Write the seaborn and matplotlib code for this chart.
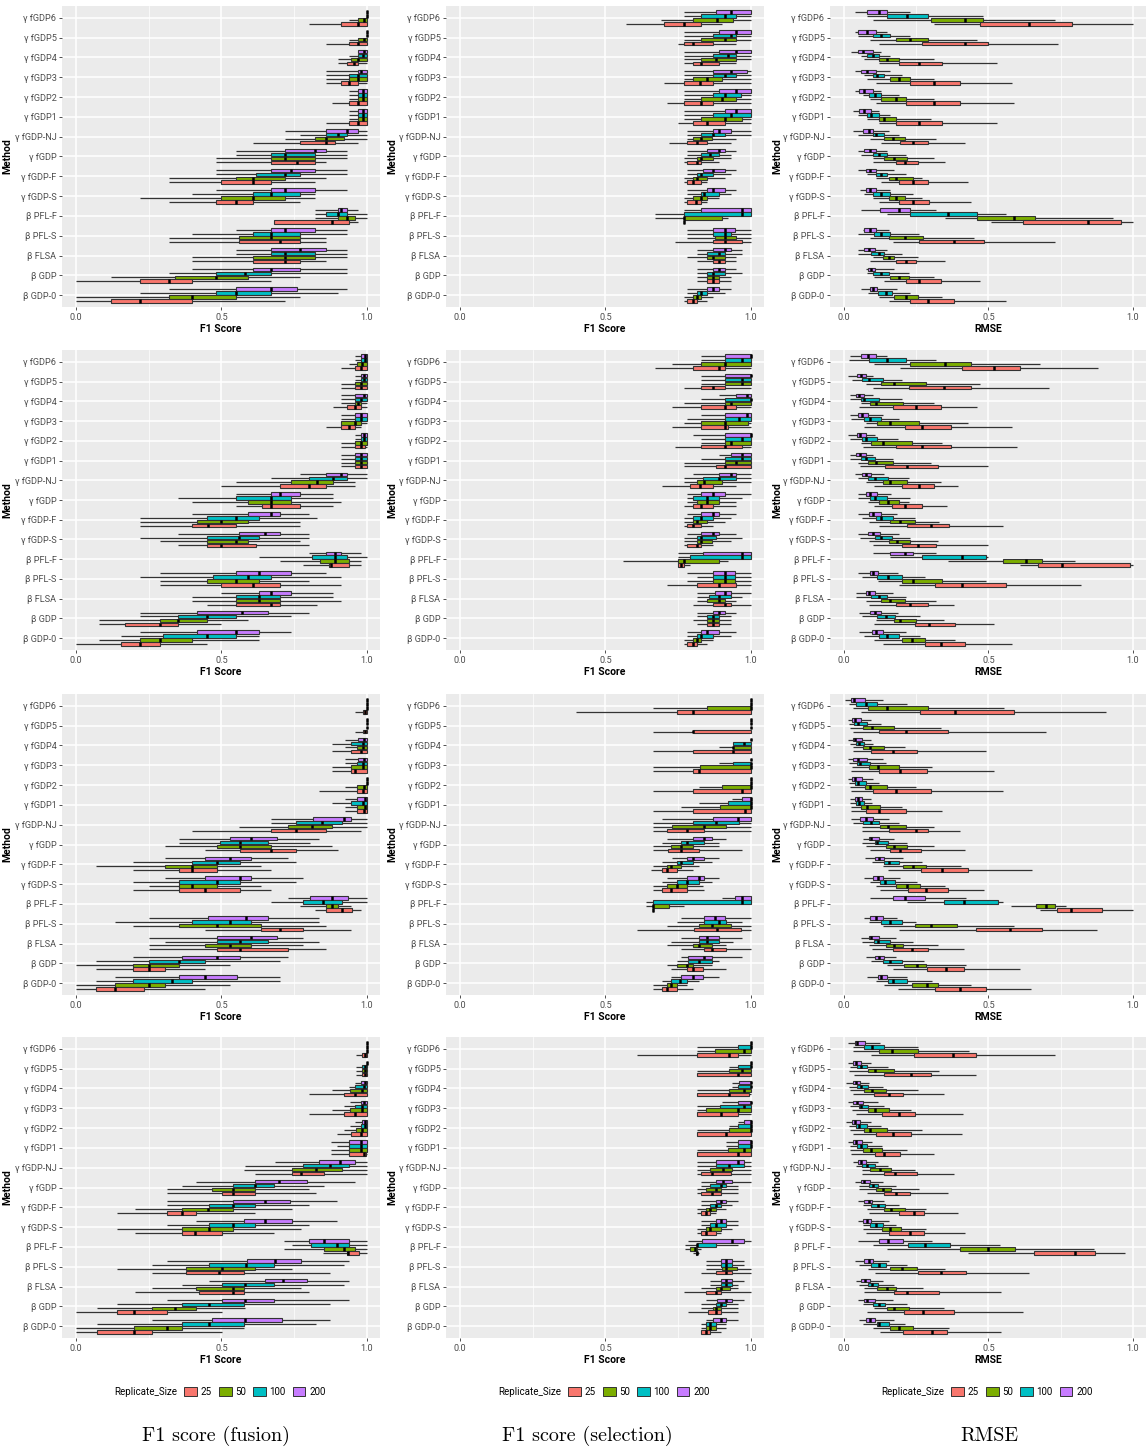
import numpy as np
import pandas as pd
import seaborn as sns
import matplotlib.pyplot as plt
from matplotlib.patches import Patch

plt.rcParams['font.family'] = ['Roboto', 'DejaVu Sans']

methods = ['γ fGDP6', 'γ fGDP5', 'γ fGDP4', 'γ fGDP3', 'γ fGDP2', 'γ fGDP1', 'γ fGDP-NJ',
           'γ fGDP', 'γ fGDP-F', 'γ fGDP-S', 'β PFL-F', 'β PFL-S', 'β FLSA', 'β GDP', 'β GDP-0']
sizes = ['25', '50', '100', '200']
size_colors = ['#F8766D', '#7CAE00', '#00BFC4', '#C77CFF']
x_titles = ['F1 Score', 'F1 Score', 'RMSE']
captions = ['F1 score (fusion)', 'F1 score (selection)', 'RMSE']

# one row per method (top to bottom), one box per replicate size 25/50/100/200
# every box is (lower whisker, q1, median, q3, upper whisker)
one = (1, 1, 1, 1, 1)

fusion_1 = [
    [(0.80, 0.91, 0.97, 1, 1), (0.94, 0.97, 0.99, 1, 1), one, one],
    [(0.86, 0.94, 0.97, 1, 1), (0.94, 0.97, 0.99, 1, 1), one, one],
    [(0.90, 0.93, 0.955, 0.97, 1), (0.90, 0.945, 0.97, 1, 1), (0.94, 0.97, 0.985, 1, 1), (0.97, 0.97, 0.99, 1, 1)],
    [(0.86, 0.91, 0.94, 0.97, 1), (0.86, 0.94, 0.97, 1, 1), (0.86, 0.94, 0.97, 1, 1), (0.86, 0.97, 0.98, 1, 1)],
    [(0.88, 0.94, 0.97, 1, 1), (0.94, 0.97, 0.985, 1, 1), (0.94, 0.97, 0.985, 1, 1), (0.94, 0.97, 0.985, 1, 1)],
    [(0.86, 0.94, 0.97, 1, 1), (0.94, 0.97, 0.985, 1, 1), (0.94, 0.97, 0.985, 1, 1), (0.94, 0.97, 0.985, 1, 1)],
    [(0.61, 0.77, 0.86, 0.89, 0.97), (0.72, 0.82, 0.86, 0.92, 1.0), (0.77, 0.86, 0.90, 0.93, 1.0), (0.72, 0.86, 0.93, 0.97, 1.0)],
    [(0.48, 0.67, 0.76, 0.82, 0.86), (0.48, 0.67, 0.72, 0.82, 0.93), (0.55, 0.67, 0.72, 0.82, 0.93), (0.55, 0.72, 0.82, 0.86, 0.93)],
    [(0.32, 0.50, 0.61, 0.67, 0.82), (0.32, 0.55, 0.61, 0.72, 0.86), (0.48, 0.62, 0.72, 0.77, 0.93), (0.48, 0.67, 0.74, 0.82, 0.93)],
    [(0.32, 0.48, 0.55, 0.61, 0.77), (0.22, 0.50, 0.61, 0.72, 0.82), (0.40, 0.61, 0.67, 0.77, 0.82), (0.48, 0.67, 0.72, 0.82, 0.93)],
    [(0.68, 0.68, 0.88, 0.94, 0.97), (0.82, 0.90, 0.93, 0.96, 1.0), (0.82, 0.86, 0.90, 0.93, 1.0), (0.82, 0.90, 0.91, 0.93, 0.97)],
    [(0.32, 0.56, 0.70, 0.77, 0.86), (0.32, 0.56, 0.67, 0.77, 0.86), (0.40, 0.61, 0.67, 0.77, 0.93), (0.55, 0.67, 0.72, 0.82, 0.93)],
    [(0.40, 0.61, 0.72, 0.77, 0.86), (0.40, 0.61, 0.72, 0.82, 0.93), (0.55, 0.67, 0.72, 0.82, 0.93), (0.55, 0.67, 0.77, 0.86, 0.93)],
    [(0.0, 0.22, 0.32, 0.40, 0.67), (0.12, 0.34, 0.48, 0.59, 0.77), (0.32, 0.48, 0.58, 0.67, 0.93), (0.40, 0.61, 0.67, 0.77, 0.93)],
    [(0.0, 0.12, 0.22, 0.40, 0.72), (0.0, 0.32, 0.40, 0.55, 0.77), (0.22, 0.48, 0.55, 0.67, 0.90), (0.32, 0.55, 0.67, 0.76, 0.93)],
]

select_1 = [
    [(0.57, 0.70, 0.77, 0.83, 0.90), (0.69, 0.80, 0.885, 0.94, 1.0), (0.77, 0.83, 0.91, 0.95, 1.0), (0.77, 0.88, 0.93, 1.0, 1.0)],
    [(0.75, 0.77, 0.80, 0.87, 0.95), (0.77, 0.83, 0.91, 0.95, 1.0), (0.77, 0.87, 0.93, 0.95, 1.0), (0.77, 0.89, 0.95, 1.0, 1.0)],
    [(0.77, 0.80, 0.83, 0.89, 0.95), (0.77, 0.83, 0.88, 0.95, 1.0), (0.77, 0.87, 0.92, 0.95, 1.0), (0.77, 0.89, 0.95, 1.0, 1.0)],
    [(0.70, 0.77, 0.825, 0.87, 1.0), (0.77, 0.80, 0.85, 0.90, 1.0), (0.77, 0.87, 0.91, 0.95, 1.0), (0.77, 0.87, 0.93, 0.985, 1.0)],
    [(0.71, 0.77, 0.83, 0.87, 1.0), (0.77, 0.83, 0.90, 0.95, 1.0), (0.77, 0.87, 0.91, 0.965, 1.0), (0.77, 0.89, 0.95, 1.0, 1.0)],
    [(0.75, 0.80, 0.85, 0.91, 1.0), (0.77, 0.83, 0.91, 0.97, 1.0), (0.77, 0.87, 0.93, 1.0, 1.0), (0.77, 0.91, 0.95, 1.0, 1.0)],
    [(0.72, 0.78, 0.815, 0.85, 0.93), (0.78, 0.80, 0.83, 0.865, 0.95), (0.78, 0.83, 0.87, 0.91, 1.0), (0.78, 0.87, 0.89, 0.93, 1.0)],
    [(0.77, 0.78, 0.815, 0.83, 0.89), (0.77, 0.815, 0.83, 0.87, 0.93), (0.78, 0.83, 0.86, 0.89, 0.93), (0.78, 0.85, 0.89, 0.91, 0.95)],
    [(0.77, 0.78, 0.80, 0.83, 0.85), (0.77, 0.80, 0.815, 0.85, 0.91), (0.78, 0.815, 0.83, 0.87, 0.93), (0.78, 0.835, 0.87, 0.91, 0.95)],
    [(0.77, 0.78, 0.81, 0.83, 0.85), (0.77, 0.80, 0.83, 0.85, 0.89), (0.78, 0.83, 0.84, 0.89, 0.93), (0.78, 0.85, 0.87, 0.91, 0.95)],
    [(0.77, 0.77, 0.77, 0.77, 0.77), (0.67, 0.77, 0.77, 0.90, 0.92), (0.67, 0.77, 0.97, 1.0, 1.0), (0.77, 0.83, 0.97, 1.0, 1.0)],
    [(0.74, 0.87, 0.91, 0.97, 1.0), (0.78, 0.875, 0.91, 0.95, 1.0), (0.78, 0.87, 0.91, 0.93, 1.0), (0.78, 0.87, 0.91, 0.945, 1.0)],
    [(0.815, 0.87, 0.89, 0.91, 0.95), (0.78, 0.85, 0.87, 0.91, 0.95), (0.815, 0.85, 0.89, 0.91, 0.97), (0.815, 0.87, 0.91, 0.93, 0.97)],
    [(0.815, 0.85, 0.87, 0.89, 0.93), (0.815, 0.85, 0.87, 0.89, 0.93), (0.815, 0.85, 0.87, 0.91, 0.97), (0.815, 0.87, 0.89, 0.91, 0.95)],
    [(0.77, 0.78, 0.80, 0.815, 0.85), (0.77, 0.80, 0.815, 0.83, 0.87), (0.78, 0.815, 0.83, 0.85, 0.91), (0.78, 0.85, 0.87, 0.89, 0.93)],
]

rmse_1 = [
    [(0.31, 0.47, 0.64, 0.79, 1.0), (0.10, 0.30, 0.42, 0.48, 0.73), (0.08, 0.15, 0.22, 0.29, 0.48), (0.04, 0.08, 0.12, 0.15, 0.23)],
    [(0.12, 0.27, 0.42, 0.50, 0.74), (0.09, 0.18, 0.23, 0.29, 0.46), (0.05, 0.10, 0.13, 0.16, 0.23), (0.04, 0.05, 0.08, 0.11, 0.15)],
    [(0.12, 0.19, 0.26, 0.34, 0.53), (0.07, 0.12, 0.15, 0.19, 0.31), (0.06, 0.08, 0.10, 0.12, 0.16), (0.025, 0.05, 0.066, 0.10, 0.13)],
    [(0.11, 0.23, 0.31, 0.40, 0.58), (0.08, 0.16, 0.19, 0.23, 0.31), (0.07, 0.10, 0.115, 0.14, 0.20), (0.04, 0.06, 0.08, 0.11, 0.16)],
    [(0.11, 0.215, 0.31, 0.40, 0.59), (0.09, 0.13, 0.18, 0.215, 0.31), (0.065, 0.086, 0.106, 0.13, 0.19), (0.04, 0.054, 0.07, 0.10, 0.13)],
    [(0.12, 0.18, 0.26, 0.34, 0.53), (0.08, 0.12, 0.14, 0.18, 0.30), (0.05, 0.08, 0.094, 0.12, 0.16), (0.03, 0.054, 0.07, 0.094, 0.12)],
    [(0.13, 0.195, 0.24, 0.29, 0.42), (0.09, 0.14, 0.17, 0.21, 0.32), (0.05, 0.10, 0.11, 0.14, 0.19), (0.03, 0.066, 0.086, 0.10, 0.155)],
    [(0.10, 0.18, 0.21, 0.255, 0.35), (0.10, 0.14, 0.175, 0.22, 0.31), (0.06, 0.10, 0.12, 0.15, 0.215), (0.05, 0.07, 0.09, 0.11, 0.15)],
    [(0.13, 0.19, 0.24, 0.29, 0.43), (0.11, 0.155, 0.18, 0.24, 0.27), (0.08, 0.11, 0.13, 0.15, 0.215), (0.05, 0.075, 0.09, 0.11, 0.175)],
    [(0.12, 0.19, 0.24, 0.295, 0.44), (0.10, 0.155, 0.18, 0.21, 0.27), (0.07, 0.10, 0.13, 0.16, 0.24), (0.055, 0.075, 0.09, 0.11, 0.16)],
    [(0.51, 0.62, 0.845, 0.96, 1.0), (0.35, 0.46, 0.59, 0.66, 0.93), (0.15, 0.23, 0.36, 0.46, 0.56), (0.06, 0.125, 0.19, 0.23, 0.32)],
    [(0.17, 0.26, 0.38, 0.485, 0.73), (0.09, 0.155, 0.21, 0.275, 0.45), (0.05, 0.105, 0.13, 0.16, 0.26), (0.065, 0.07, 0.09, 0.11, 0.155)],
    [(0.09, 0.18, 0.215, 0.25, 0.35), (0.10, 0.134, 0.155, 0.175, 0.255), (0.05, 0.094, 0.12, 0.14, 0.20), (0.05, 0.07, 0.086, 0.106, 0.15)],
    [(0.14, 0.215, 0.26, 0.335, 0.47), (0.105, 0.16, 0.19, 0.225, 0.31), (0.08, 0.10, 0.13, 0.155, 0.225), (0.075, 0.083, 0.094, 0.108, 0.175)],
    [(0.155, 0.23, 0.29, 0.38, 0.56), (0.12, 0.175, 0.215, 0.255, 0.34), (0.085, 0.117, 0.144, 0.166, 0.23), (0.06, 0.09, 0.10, 0.115, 0.185)],
]

fusion_2 = [
    [(0.91, 0.96, 0.98, 1, 1), (0.94, 0.965, 0.983, 1, 1), (0.96, 0.98, 0.995, 1, 1), (0.96, 0.98, 0.995, 1, 1)],
    [(0.91, 0.96, 0.98, 1, 1), (0.91, 0.96, 0.98, 1, 1), (0.96, 0.98, 0.99, 1, 1), (0.96, 0.98, 0.99, 1, 1)],
    [(0.885, 0.93, 0.96, 0.98, 1), (0.91, 0.96, 0.97, 0.98, 1), (0.91, 0.96, 0.98, 1, 1), (0.91, 0.96, 0.99, 1, 1)],
    [(0.86, 0.91, 0.94, 0.96, 0.98), (0.91, 0.91, 0.96, 0.98, 1), (0.91, 0.96, 0.98, 1, 1), (0.91, 0.96, 0.98, 1, 1)],
    [(0.91, 0.96, 0.98, 0.995, 1), (0.91, 0.96, 0.98, 1, 1), (0.96, 0.98, 0.99, 1, 1), (0.96, 0.98, 0.99, 1, 1)],
    [(0.91, 0.96, 0.98, 1, 1), (0.91, 0.96, 0.98, 1, 1), (0.91, 0.96, 0.98, 1, 1), (0.91, 0.96, 0.98, 1, 1)],
    [(0.50, 0.70, 0.80, 0.86, 0.96), (0.55, 0.74, 0.83, 0.885, 0.96), (0.67, 0.80, 0.885, 0.93, 1.0), (0.77, 0.86, 0.91, 0.93, 1.0)],
    [(0.55, 0.64, 0.67, 0.77, 0.885), (0.40, 0.59, 0.67, 0.74, 0.91), (0.35, 0.55, 0.67, 0.74, 0.885), (0.55, 0.67, 0.70, 0.77, 0.885)],
    [(0.22, 0.40, 0.455, 0.55, 0.77), (0.22, 0.415, 0.50, 0.59, 0.77), (0.22, 0.45, 0.55, 0.63, 0.83), (0.40, 0.59, 0.67, 0.70, 0.80)],
    [(0.35, 0.45, 0.50, 0.62, 0.80), (0.29, 0.45, 0.55, 0.59, 0.77), (0.22, 0.45, 0.56, 0.63, 0.80), (0.35, 0.56, 0.65, 0.70, 0.80)],
    [(0.78, 0.87, 0.876, 0.94, 0.98), (0.70, 0.84, 0.89, 0.94, 0.98), (0.63, 0.81, 0.89, 0.93, 1.0), (0.80, 0.86, 0.89, 0.91, 0.98)],
    [(0.29, 0.50, 0.61, 0.70, 0.91), (0.29, 0.45, 0.55, 0.63, 0.80), (0.22, 0.47, 0.59, 0.67, 0.91), (0.29, 0.55, 0.63, 0.74, 0.86)],
    [(0.45, 0.55, 0.67, 0.70, 0.83), (0.40, 0.55, 0.63, 0.70, 0.91), (0.40, 0.55, 0.63, 0.70, 0.885), (0.50, 0.63, 0.67, 0.74, 0.885)],
    [(0.08, 0.17, 0.29, 0.35, 0.50), (0.08, 0.29, 0.35, 0.45, 0.59), (0.22, 0.35, 0.45, 0.55, 0.74), (0.22, 0.415, 0.57, 0.66, 0.80)],
    [(0.0, 0.155, 0.22, 0.29, 0.45), (0.08, 0.22, 0.29, 0.40, 0.63), (0.155, 0.30, 0.45, 0.55, 0.63), (0.22, 0.415, 0.55, 0.63, 0.74)],
]

select_2 = [
    [(0.67, 0.80, 0.89, 0.91, 1.0), (0.73, 0.83, 0.91, 1.0, 1.0), (0.83, 0.91, 0.97, 1.0, 1.0), (0.83, 0.91, 1.0, 1.0, 1.0)],
    [(0.77, 0.83, 0.87, 0.91, 1.0), (0.83, 0.91, 0.97, 1, 1), (0.83, 0.91, 0.97, 1, 1), (0.83, 0.91, 1, 1, 1)],
    [(0.73, 0.83, 0.91, 0.95, 1.0), (0.77, 0.91, 0.93, 1, 1), (0.83, 0.91, 1.0, 1, 1), (0.89, 0.95, 0.985, 1, 1)],
    [(0.73, 0.83, 0.91, 0.92, 1.0), (0.77, 0.83, 0.91, 0.99, 1.0), (0.78, 0.91, 0.96, 1, 1), (0.83, 0.91, 0.985, 1, 1)],
    [(0.74, 0.83, 0.91, 0.97, 1.0), (0.83, 0.91, 0.93, 1, 1), (0.83, 0.91, 0.97, 1, 1), (0.80, 0.91, 1.0, 1, 1)],
    [(0.77, 0.88, 0.91, 1, 1), (0.77, 0.91, 0.95, 1, 1), (0.83, 0.91, 0.97, 1, 1), (0.89, 0.93, 0.97, 1, 1)],
    [(0.695, 0.79, 0.825, 0.87, 0.95), (0.77, 0.815, 0.84, 0.90, 1.0), (0.77, 0.835, 0.89, 0.95, 1.0), (0.80, 0.89, 0.93, 0.95, 1.0)],
    [(0.77, 0.80, 0.83, 0.87, 0.95), (0.78, 0.815, 0.85, 0.89, 0.95), (0.78, 0.80, 0.85, 0.89, 0.97), (0.78, 0.83, 0.87, 0.91, 1.0)],
    [(0.77, 0.78, 0.80, 0.83, 0.87), (0.77, 0.80, 0.815, 0.85, 0.91), (0.77, 0.80, 0.83, 0.87, 0.93), (0.78, 0.83, 0.87, 0.89, 0.95)],
    [(0.77, 0.78, 0.815, 0.83, 0.87), (0.77, 0.815, 0.83, 0.865, 0.93), (0.77, 0.815, 0.83, 0.88, 0.97), (0.78, 0.83, 0.87, 0.89, 0.95)],
    [(0.75, 0.75, 0.76, 0.77, 0.79), (0.56, 0.75, 0.77, 0.89, 0.92), (0.75, 0.79, 0.97, 1.0, 1.0), (0.75, 0.835, 0.97, 1.0, 1.0)],
    [(0.71, 0.815, 0.89, 0.95, 1.0), (0.78, 0.87, 0.91, 0.945, 1.0), (0.815, 0.87, 0.91, 0.945, 1.0), (0.78, 0.87, 0.91, 0.945, 1.0)],
    [(0.80, 0.87, 0.91, 0.93, 1.0), (0.815, 0.85, 0.89, 0.91, 0.95), (0.815, 0.855, 0.89, 0.93, 0.97), (0.815, 0.875, 0.91, 0.93, 1.0)],
    [(0.815, 0.85, 0.87, 0.89, 0.93), (0.80, 0.85, 0.87, 0.89, 0.93), (0.815, 0.85, 0.87, 0.89, 0.93), (0.815, 0.87, 0.89, 0.91, 0.95)],
    [(0.77, 0.78, 0.80, 0.815, 0.85), (0.77, 0.80, 0.815, 0.83, 0.87), (0.78, 0.815, 0.83, 0.87, 0.93), (0.78, 0.83, 0.85, 0.89, 0.95)],
]

rmse_2 = [
    [(0.195, 0.41, 0.52, 0.61, 0.88), (0.105, 0.23, 0.35, 0.44, 0.68), (0.016, 0.086, 0.15, 0.215, 0.32), (0.02, 0.06, 0.083, 0.11, 0.15)],
    [(0.10, 0.225, 0.345, 0.44, 0.71), (0.077, 0.13, 0.175, 0.285, 0.47), (0.028, 0.063, 0.086, 0.137, 0.20), (0.014, 0.045, 0.06, 0.075, 0.10)],
    [(0.054, 0.17, 0.25, 0.335, 0.46), (0.06, 0.09, 0.11, 0.205, 0.31), (0.022, 0.06, 0.07, 0.123, 0.20), (0.02, 0.043, 0.054, 0.069, 0.10)],
    [(0.068, 0.21, 0.27, 0.37, 0.58), (0.077, 0.114, 0.16, 0.26, 0.43), (0.025, 0.068, 0.089, 0.13, 0.19), (0.022, 0.048, 0.063, 0.083, 0.134)],
    [(0.066, 0.18, 0.27, 0.37, 0.60), (0.06, 0.094, 0.134, 0.235, 0.34), (0.022, 0.063, 0.077, 0.114, 0.186), (0.014, 0.045, 0.056, 0.075, 0.106)],
    [(0.057, 0.143, 0.22, 0.325, 0.50), (0.05, 0.083, 0.11, 0.17, 0.30), (0.022, 0.06, 0.077, 0.106, 0.17), (0.02, 0.043, 0.056, 0.075, 0.10)],
    [(0.105, 0.20, 0.26, 0.31, 0.395), (0.075, 0.134, 0.16, 0.22, 0.335), (0.048, 0.083, 0.106, 0.152, 0.225), (0.037, 0.062, 0.075, 0.094, 0.14)],
    [(0.105, 0.166, 0.21, 0.27, 0.355), (0.083, 0.123, 0.152, 0.19, 0.225), (0.048, 0.092, 0.106, 0.148, 0.23), (0.048, 0.075, 0.09, 0.114, 0.163)],
    [(0.12, 0.22, 0.30, 0.365, 0.55), (0.086, 0.16, 0.195, 0.245, 0.33), (0.063, 0.11, 0.13, 0.17, 0.245), (0.05, 0.086, 0.10, 0.13, 0.185)],
    [(0.10, 0.20, 0.255, 0.32, 0.50), (0.086, 0.155, 0.185, 0.23, 0.325), (0.056, 0.108, 0.13, 0.166, 0.23), (0.048, 0.085, 0.10, 0.125, 0.19)],
    [(0.61, 0.67, 0.755, 0.99, 1.0), (0.36, 0.55, 0.63, 0.685, 0.80), (0.16, 0.27, 0.41, 0.49, 0.50), (0.10, 0.16, 0.21, 0.24, 0.32)],
    [(0.19, 0.315, 0.41, 0.56, 0.82), (0.117, 0.20, 0.24, 0.34, 0.49), (0.063, 0.114, 0.152, 0.20, 0.28), (0.048, 0.089, 0.10, 0.117, 0.186)],
    [(0.086, 0.18, 0.23, 0.29, 0.38), (0.075, 0.13, 0.16, 0.21, 0.32), (0.043, 0.094, 0.12, 0.148, 0.215), (0.043, 0.077, 0.086, 0.109, 0.17)],
    [(0.105, 0.245, 0.295, 0.385, 0.52), (0.11, 0.175, 0.195, 0.25, 0.345), (0.062, 0.115, 0.144, 0.178, 0.265), (0.052, 0.092, 0.106, 0.129, 0.186)],
    [(0.137, 0.28, 0.335, 0.42, 0.58), (0.103, 0.20, 0.235, 0.28, 0.385), (0.07, 0.123, 0.148, 0.19, 0.265), (0.054, 0.097, 0.11, 0.137, 0.215)],
]

fusion_3 = [
    [(0.96, 0.985, 0.995, 1, 1), one, one, one],
    [(0.96, 0.985, 0.995, 1, 1), one, one, one],
    [(0.88, 0.945, 0.98, 1, 1), (0.925, 0.965, 0.985, 1, 1), (0.88, 0.945, 0.985, 1, 1), (0.925, 0.97, 0.99, 1, 1)],
    [(0.88, 0.945, 0.96, 1, 1), (0.88, 0.945, 0.985, 1, 1), (0.925, 0.965, 0.985, 1, 1), (0.925, 0.97, 0.99, 1, 1)],
    [(0.835, 0.965, 0.985, 1, 1), (0.925, 0.965, 0.99, 1, 1), one, one],
    [(0.925, 0.965, 0.99, 1, 1), (0.925, 0.965, 0.995, 1, 1), (0.88, 0.945, 0.985, 1, 1), (0.925, 0.965, 0.995, 1, 1)],
    [(0.40, 0.67, 0.755, 0.86, 0.98), (0.56, 0.73, 0.81, 0.88, 1.0), (0.67, 0.755, 0.845, 0.915, 1.0), (0.67, 0.815, 0.92, 0.945, 1.0)],
    [(0.445, 0.565, 0.67, 0.755, 0.90), (0.305, 0.485, 0.565, 0.67, 0.88), (0.355, 0.495, 0.565, 0.66, 0.805), (0.355, 0.53, 0.60, 0.69, 0.835)],
    [(0.195, 0.355, 0.40, 0.485, 0.67), (0.07, 0.305, 0.40, 0.485, 0.635), (0.195, 0.40, 0.485, 0.565, 0.755), (0.305, 0.445, 0.53, 0.60, 0.73)],
    [(0.195, 0.355, 0.445, 0.565, 0.67), (0.25, 0.355, 0.40, 0.485, 0.635), (0.195, 0.355, 0.485, 0.565, 0.755), (0.305, 0.445, 0.565, 0.60, 0.78)],
    [(0.82, 0.86, 0.915, 0.95, 0.98), (0.77, 0.86, 0.88, 0.90, 0.945), (0.67, 0.78, 0.85, 0.915, 1.0), (0.73, 0.805, 0.88, 0.935, 1.0)],
    [(0.445, 0.635, 0.70, 0.78, 0.945), (0.195, 0.355, 0.485, 0.635, 0.86), (0.135, 0.40, 0.53, 0.60, 0.835), (0.25, 0.455, 0.585, 0.66, 0.835)],
    [(0.25, 0.485, 0.565, 0.73, 0.86), (0.25, 0.445, 0.53, 0.60, 0.78), (0.305, 0.485, 0.565, 0.66, 0.835), (0.25, 0.485, 0.60, 0.69, 0.78)],
    [(0.07, 0.195, 0.25, 0.305, 0.445), (0.0, 0.195, 0.25, 0.355, 0.53), (0.07, 0.25, 0.355, 0.445, 0.70), (0.195, 0.365, 0.485, 0.565, 0.73)],
    [(0.0, 0.07, 0.135, 0.235, 0.445), (0.0, 0.135, 0.25, 0.305, 0.53), (0.07, 0.195, 0.33, 0.40, 0.70), (0.135, 0.355, 0.445, 0.555, 0.70)],
]

select_3 = [
    [(0.40, 0.745, 0.80, 1.0, 1.0), (0.665, 0.85, 1.0, 1.0, 1.0), one, one],
    [(0.665, 0.80, 0.80, 1.0, 1.0), one, one, one],
    [(0.665, 0.80, 0.94, 1.0, 1.0), (0.89, 0.94, 0.94, 1.0, 1.0), (0.94, 0.94, 0.975, 1.0, 1.0), one],
    [(0.665, 0.80, 0.82, 1.0, 1.0), (0.665, 0.825, 1.0, 1.0, 1.0), (0.89, 0.94, 1.0, 1.0, 1.0), one],
    [(0.665, 0.80, 0.97, 1.0, 1.0), (0.82, 0.90, 1.0, 1.0, 1.0), one, one],
    [(0.665, 0.80, 0.98, 1.0, 1.0), (0.76, 0.895, 1.0, 1.0, 1.0), (0.82, 0.92, 1.0, 1.0, 1.0), (0.935, 0.97, 1.0, 1.0, 1.0)],
    [(0.665, 0.71, 0.78, 0.84, 1.0), (0.665, 0.73, 0.84, 0.915, 1.0), (0.665, 0.80, 0.88, 0.96, 1.0), (0.695, 0.87, 0.955, 1.0, 1.0)],
    [(0.665, 0.715, 0.76, 0.82, 0.97), (0.665, 0.725, 0.76, 0.80, 0.89), (0.695, 0.76, 0.78, 0.84, 0.89), (0.71, 0.80, 0.84, 0.865, 0.915)],
    [(0.655, 0.695, 0.71, 0.745, 0.80), (0.665, 0.71, 0.725, 0.76, 0.82), (0.695, 0.745, 0.76, 0.80, 0.865), (0.73, 0.78, 0.80, 0.84, 0.89)],
    [(0.665, 0.695, 0.725, 0.78, 0.84), (0.665, 0.71, 0.745, 0.78, 0.835), (0.695, 0.745, 0.78, 0.82, 0.865), (0.71, 0.78, 0.82, 0.84, 0.89)],
    [(0.665, 0.665, 0.665, 0.665, 0.665), (0.64, 0.665, 0.665, 0.72, 0.77), (0.64, 0.665, 0.97, 1.0, 1.0), (0.90, 0.945, 0.97, 1.0, 1.0)],
    [(0.61, 0.805, 0.885, 0.965, 1.0), (0.71, 0.82, 0.865, 0.93, 1.0), (0.745, 0.84, 0.89, 0.915, 0.97), (0.76, 0.84, 0.875, 0.91, 1.0)],
    [(0.76, 0.84, 0.865, 0.915, 1.0), (0.71, 0.80, 0.82, 0.865, 0.915), (0.725, 0.82, 0.85, 0.89, 0.94), (0.76, 0.82, 0.85, 0.89, 0.97)],
    [(0.725, 0.78, 0.80, 0.835, 0.915), (0.71, 0.745, 0.78, 0.80, 0.865), (0.745, 0.785, 0.82, 0.865, 0.89), (0.76, 0.785, 0.84, 0.865, 0.97)],
    [(0.665, 0.695, 0.71, 0.745, 0.80), (0.665, 0.71, 0.725, 0.745, 0.78), (0.695, 0.725, 0.755, 0.78, 0.82), (0.725, 0.76, 0.80, 0.835, 0.89)],
]

rmse_3 = [
    [(0.06, 0.265, 0.385, 0.59, 0.905), (0.03, 0.085, 0.15, 0.29, 0.555), (0.017, 0.043, 0.075, 0.114, 0.22), (0.005, 0.025, 0.034, 0.074, 0.135)],
    [(0.033, 0.12, 0.215, 0.36, 0.70), (0.022, 0.066, 0.098, 0.172, 0.335), (0.017, 0.034, 0.048, 0.08, 0.13), (0.014, 0.029, 0.037, 0.06, 0.094)],
    [(0.033, 0.094, 0.17, 0.253, 0.49), (0.03, 0.066, 0.092, 0.138, 0.21), (0.02, 0.043, 0.052, 0.068, 0.10), (0.014, 0.033, 0.04, 0.062, 0.094)],
    [(0.025, 0.123, 0.195, 0.287, 0.52), (0.028, 0.086, 0.117, 0.19, 0.305), (0.017, 0.046, 0.057, 0.092, 0.146), (0.014, 0.033, 0.048, 0.08, 0.134)],
    [(0.023, 0.10, 0.18, 0.30, 0.55), (0.022, 0.074, 0.09, 0.15, 0.25), (0.017, 0.039, 0.048, 0.077, 0.123), (0.014, 0.029, 0.04, 0.062, 0.10)],
    [(0.025, 0.075, 0.123, 0.215, 0.34), (0.025, 0.06, 0.08, 0.126, 0.20), (0.022, 0.043, 0.052, 0.069, 0.098), (0.02, 0.037, 0.048, 0.062, 0.094)],
    [(0.063, 0.155, 0.25, 0.29, 0.40), (0.062, 0.126, 0.154, 0.215, 0.31), (0.03, 0.066, 0.094, 0.123, 0.19), (0.025, 0.056, 0.077, 0.10, 0.157)],
    [(0.09, 0.16, 0.195, 0.267, 0.42), (0.077, 0.146, 0.175, 0.218, 0.31), (0.062, 0.108, 0.115, 0.154, 0.22), (0.066, 0.086, 0.094, 0.121, 0.175)],
    [(0.154, 0.267, 0.34, 0.428, 0.65), (0.134, 0.206, 0.24, 0.284, 0.405), (0.097, 0.138, 0.155, 0.19, 0.27), (0.074, 0.106, 0.121, 0.14, 0.203)],
    [(0.125, 0.223, 0.284, 0.36, 0.483), (0.11, 0.18, 0.217, 0.264, 0.35), (0.09, 0.126, 0.143, 0.178, 0.252), (0.07, 0.10, 0.117, 0.134, 0.194)],
    [(0.677, 0.736, 0.787, 0.893, 1.0), (0.577, 0.666, 0.70, 0.729, 0.767), (0.217, 0.345, 0.416, 0.533, 0.55), (0.091, 0.171, 0.213, 0.28, 0.422)],
    [(0.189, 0.456, 0.574, 0.686, 0.876), (0.134, 0.246, 0.30, 0.39, 0.59), (0.086, 0.129, 0.16, 0.20, 0.25), (0.068, 0.091, 0.11, 0.134, 0.184)],
    [(0.098, 0.169, 0.234, 0.29, 0.414), (0.086, 0.146, 0.172, 0.206, 0.326), (0.063, 0.103, 0.117, 0.16, 0.238), (0.06, 0.086, 0.094, 0.121, 0.18)],
    [(0.169, 0.286, 0.353, 0.416, 0.61), (0.15, 0.209, 0.253, 0.284, 0.422), (0.094, 0.137, 0.16, 0.20, 0.278), (0.077, 0.109, 0.121, 0.14, 0.18)],
    [(0.186, 0.315, 0.40, 0.49, 0.646), (0.14, 0.236, 0.287, 0.324, 0.44), (0.11, 0.152, 0.169, 0.217, 0.305), (0.08, 0.117, 0.129, 0.148, 0.22)],
]

fusion_4 = [
    [(0.962, 0.983, 0.995, 1, 1), one, one, one],
    [(0.962, 0.983, 0.995, 1, 1), (0.962, 0.983, 0.995, 1, 1), (0.962, 0.983, 0.995, 1, 1), one],
    [(0.80, 0.92, 0.96, 1, 1), (0.88, 0.943, 0.983, 1, 1), (0.937, 0.96, 0.99, 1, 1), (0.96, 0.98, 0.995, 1, 1)],
    [(0.80, 0.92, 0.96, 1, 1), (0.88, 0.943, 0.983, 1, 1), (0.92, 0.96, 0.983, 1, 1), (0.943, 0.98, 0.99, 1, 1)],
    [(0.897, 0.946, 0.98, 1, 1), (0.92, 0.962, 0.983, 1, 1), (0.943, 0.98, 0.995, 1, 1), (0.96, 0.983, 0.995, 1, 1)],
    [(0.876, 0.94, 0.99, 0.997, 1), (0.876, 0.94, 0.98, 1, 1), (0.897, 0.94, 0.98, 1, 1), (0.876, 0.94, 0.98, 1, 1)],
    [(0.616, 0.744, 0.773, 0.851, 1.0), (0.578, 0.744, 0.826, 0.914, 1.0), (0.58, 0.78, 0.874, 0.94, 1.0), (0.685, 0.834, 0.908, 0.96, 1.0)],
    [(0.314, 0.501, 0.541, 0.616, 0.826), (0.314, 0.469, 0.541, 0.616, 0.80), (0.364, 0.541, 0.616, 0.682, 0.851), (0.413, 0.616, 0.698, 0.794, 0.96)],
    [(0.14, 0.314, 0.364, 0.413, 0.616), (0.203, 0.364, 0.455, 0.541, 0.744), (0.314, 0.458, 0.541, 0.616, 0.80), (0.314, 0.541, 0.65, 0.736, 0.897)],
    [(0.203, 0.364, 0.409, 0.501, 0.682), (0.14, 0.364, 0.458, 0.541, 0.773), (0.314, 0.458, 0.541, 0.616, 0.80), (0.413, 0.578, 0.65, 0.744, 0.897)],
    [(0.85, 0.931, 0.935, 0.974, 1.0), (0.716, 0.851, 0.92, 0.96, 1.0), (0.744, 0.807, 0.897, 0.94, 1.0), (0.716, 0.80, 0.851, 0.94, 1.0)],
    [(0.26, 0.377, 0.493, 0.579, 0.874), (0.14, 0.377, 0.501, 0.616, 0.744), (0.26, 0.458, 0.584, 0.682, 0.92), (0.314, 0.589, 0.685, 0.773, 0.94)],
    [(0.203, 0.424, 0.541, 0.579, 0.80), (0.26, 0.413, 0.541, 0.579, 0.773), (0.364, 0.501, 0.581, 0.682, 0.92), (0.458, 0.65, 0.713, 0.794, 0.94)],
    [(0.0, 0.14, 0.20, 0.314, 0.501), (0.073, 0.26, 0.341, 0.413, 0.581), (0.14, 0.364, 0.458, 0.579, 0.874), (0.314, 0.501, 0.581, 0.682, 0.94)],
    [(0.0, 0.073, 0.20, 0.26, 0.501), (0.0, 0.20, 0.314, 0.364, 0.579), (0.073, 0.364, 0.458, 0.579, 0.826), (0.26, 0.469, 0.581, 0.708, 0.874)],
]

select_4 = [
    [(0.61, 0.815, 0.925, 0.955, 1.0), (0.815, 0.875, 0.975, 1, 1), (0.815, 0.955, 1.0, 1, 1), one],
    [(0.815, 0.815, 0.955, 1, 1), (0.815, 0.925, 0.97, 1, 1), (0.925, 0.955, 1, 1, 1), one],
    [(0.815, 0.815, 0.925, 0.993, 1), (0.815, 0.925, 0.975, 1, 1), (0.935, 0.955, 1, 1, 1), (0.935, 0.96, 1, 1, 1)],
    [(0.815, 0.815, 0.897, 0.955, 1), (0.815, 0.847, 0.955, 1, 1), (0.815, 0.893, 0.975, 1, 1), (0.90, 0.955, 1, 1, 1)],
    [(0.815, 0.815, 0.916, 1, 1), (0.815, 0.925, 1, 1, 1), (0.925, 0.955, 1, 1, 1), (0.955, 0.977, 1, 1, 1)],
    [(0.815, 0.815, 0.955, 1, 1), (0.815, 0.92, 0.975, 1, 1), (0.916, 0.955, 1, 1, 1), (0.916, 0.955, 1, 1, 1)],
    [(0.815, 0.83, 0.865, 0.93, 1.0), (0.815, 0.86, 0.905, 0.935, 1.0), (0.815, 0.88, 0.925, 0.975, 1.0), (0.815, 0.88, 0.955, 0.975, 1.0)],
    [(0.815, 0.83, 0.865, 0.897, 0.955), (0.815, 0.847, 0.88, 0.897, 0.955), (0.83, 0.86, 0.897, 0.916, 0.955), (0.83, 0.88, 0.905, 0.935, 1.0)],
    [(0.815, 0.83, 0.847, 0.86, 0.88), (0.815, 0.847, 0.86, 0.88, 0.916), (0.83, 0.86, 0.88, 0.897, 0.935), (0.83, 0.88, 0.897, 0.916, 0.955)],
    [(0.815, 0.83, 0.847, 0.88, 0.897), (0.815, 0.847, 0.86, 0.897, 0.935), (0.83, 0.86, 0.88, 0.916, 0.955), (0.83, 0.88, 0.897, 0.916, 0.955)],
    [(0.80, 0.81, 0.815, 0.815, 0.82), (0.773, 0.792, 0.807, 0.815, 0.83), (0.773, 0.815, 0.815, 0.88, 0.955), (0.785, 0.833, 0.936, 0.977, 1.0)],
    [(0.83, 0.88, 0.916, 0.936, 1.0), (0.847, 0.899, 0.916, 0.951, 1.0), (0.847, 0.897, 0.916, 0.936, 0.977), (0.847, 0.897, 0.916, 0.936, 0.977)],
    [(0.77, 0.847, 0.88, 0.897, 1.0), (0.83, 0.88, 0.897, 0.928, 0.955), (0.86, 0.897, 0.916, 0.936, 0.955), (0.86, 0.897, 0.916, 0.936, 0.977)],
    [(0.785, 0.851, 0.88, 0.897, 0.955), (0.83, 0.868, 0.88, 0.897, 0.955), (0.83, 0.88, 0.897, 0.916, 0.955), (0.847, 0.885, 0.916, 0.936, 0.975)],
    [(0.83, 0.83, 0.847, 0.86, 0.897), (0.83, 0.847, 0.86, 0.88, 0.916), (0.83, 0.847, 0.86, 0.88, 0.916), (0.847, 0.868, 0.897, 0.916, 0.955)],
]

rmse_4 = [
    [(0.094, 0.244, 0.378, 0.456, 0.729), (0.03, 0.123, 0.167, 0.255, 0.433), (0.03, 0.069, 0.097, 0.138, 0.255), (0.014, 0.04, 0.045, 0.074, 0.126)],
    [(0.034, 0.138, 0.232, 0.303, 0.456), (0.017, 0.085, 0.108, 0.172, 0.33), (0.022, 0.046, 0.06, 0.08, 0.152), (0.014, 0.033, 0.043, 0.06, 0.094)],
    [(0.033, 0.103, 0.157, 0.206, 0.347), (0.02, 0.068, 0.098, 0.144, 0.255), (0.016, 0.046, 0.06, 0.083, 0.134), (0.006, 0.03, 0.043, 0.056, 0.086)],
    [(0.043, 0.132, 0.192, 0.247, 0.413), (0.029, 0.085, 0.108, 0.157, 0.232), (0.02, 0.052, 0.06, 0.085, 0.14), (0.014, 0.033, 0.045, 0.065, 0.117)],
    [(0.031, 0.111, 0.169, 0.232, 0.407), (0.02, 0.068, 0.092, 0.149, 0.27), (0.017, 0.043, 0.054, 0.079, 0.129), (0.006, 0.029, 0.037, 0.056, 0.094)],
    [(0.023, 0.108, 0.14, 0.194, 0.31), (0.022, 0.066, 0.094, 0.131, 0.217), (0.02, 0.046, 0.06, 0.08, 0.132), (0.014, 0.033, 0.043, 0.062, 0.098)],
    [(0.062, 0.138, 0.177, 0.252, 0.382), (0.062, 0.092, 0.125, 0.163, 0.247), (0.042, 0.063, 0.08, 0.109, 0.152), (0.033, 0.048, 0.06, 0.077, 0.117)],
    [(0.08, 0.138, 0.18, 0.229, 0.359), (0.054, 0.111, 0.134, 0.163, 0.261), (0.052, 0.086, 0.10, 0.117, 0.18), (0.037, 0.06, 0.071, 0.089, 0.137)],
    [(0.086, 0.19, 0.241, 0.278, 0.395), (0.079, 0.14, 0.163, 0.211, 0.284), (0.066, 0.094, 0.117, 0.143, 0.192), (0.048, 0.069, 0.086, 0.098, 0.14)],
    [(0.077, 0.155, 0.23, 0.276, 0.418), (0.066, 0.131, 0.161, 0.198, 0.284), (0.066, 0.092, 0.111, 0.134, 0.18), (0.048, 0.066, 0.079, 0.094, 0.157)],
    [(0.431, 0.657, 0.798, 0.87, 0.971), (0.148, 0.401, 0.497, 0.591, 0.864), (0.102, 0.223, 0.282, 0.367, 0.539), (0.05, 0.121, 0.152, 0.203, 0.305)],
    [(0.106, 0.257, 0.336, 0.422, 0.64), (0.083, 0.16, 0.20, 0.253, 0.349), (0.054, 0.094, 0.121, 0.146, 0.22), (0.037, 0.068, 0.086, 0.10, 0.157)],
    [(0.069, 0.175, 0.218, 0.328, 0.545), (0.069, 0.114, 0.148, 0.18, 0.275), (0.052, 0.083, 0.098, 0.117, 0.175), (0.043, 0.06, 0.074, 0.091, 0.134)],
    [(0.08, 0.209, 0.275, 0.382, 0.621), (0.105, 0.148, 0.175, 0.226, 0.347), (0.066, 0.10, 0.121, 0.143, 0.22), (0.048, 0.069, 0.079, 0.106, 0.169)],
    [(0.125, 0.203, 0.305, 0.355, 0.543), (0.10, 0.16, 0.189, 0.24, 0.364), (0.066, 0.114, 0.123, 0.157, 0.21), (0.052, 0.075, 0.089, 0.106, 0.175)],
]

panels = [[fusion_1, select_1, rmse_1],
          [fusion_2, select_2, rmse_2],
          [fusion_3, select_3, rmse_3],
          [fusion_4, select_4, rmse_4]]


def to_long(panel):
    rows = []
    for m, boxes in zip(methods, panel):
        for s, five in zip(sizes, boxes):
            for v in five:
                rows.append({'Method': m, 'Replicate_Size': s, 'value': v})
    return pd.DataFrame(rows)


W, H = 1146, 1450
cols_px = [(62, 380), (446, 764), (830, 1146)]
ylab_px = [12, 397, 782]
rows_px = [(6, 307), (350, 650), (694, 995), (1037, 1338)]
pal = dict(zip(sizes, size_colors))

fig = plt.figure(figsize=(W / 100, H / 100), dpi=100)

for r, (top, bot) in enumerate(rows_px):
    for c, (left, right) in enumerate(cols_px):
        ax = fig.add_axes([left / W, 1 - bot / H, (right - left) / W, (bot - top) / H])
        df = to_long(panels[r][c])
        sns.boxplot(data=df, x='value', y='Method', hue='Replicate_Size', order=methods,
                    hue_order=sizes[::-1], palette=pal, orient='h', whis=(0, 100),
                    width=0.8, gap=0.1, saturation=1, linewidth=0.8, linecolor='#333333',
                    medianprops=dict(color='black', linewidth=1.8),
                    whiskerprops=dict(color='#333333', linewidth=0.9),
                    capprops=dict(linewidth=0), showfliers=False, legend=False, ax=ax)
        ax.set_facecolor('#EBEBEB')
        ax.set_xlim(-0.048, 1.045)
        ax.set_ylim(14.6, -0.6)
        ax.set_xticks([0, 0.5, 1.0])
        ax.set_xticklabels(['0.0', '0.5', '1.0'])
        ax.set_xticks([0.25, 0.75], minor=True)
        ax.grid(True, which='major', axis='both', color='white', linewidth=1.1)
        ax.grid(True, which='minor', axis='x', color='white', linewidth=0.5)
        ax.set_axisbelow(True)
        for sp in ax.spines.values():
            sp.set_visible(False)
        ax.tick_params(axis='both', which='major', length=2.5, width=0.6, color='#333333',
                       labelsize=6.6, labelcolor='#4D4D4D', pad=1.5)
        ax.tick_params(axis='x', which='minor', length=0)
        ax.set_xlabel(x_titles[c], fontsize=7.5, fontweight='bold', labelpad=2)
        ax.set_ylabel('Method', fontsize=7.5, fontweight='bold')
        ax.yaxis.set_label_coords((ylab_px[c] - left) / (right - left), 0.5)

# legends under each column, title on the left like ggplot
handles = [Patch(facecolor='none', edgecolor='none')] + \
          [Patch(facecolor=col, edgecolor='#333333', linewidth=0.7) for col in size_colors]
labels = ['Replicate_Size'] + sizes
for left, right in cols_px:
    fig.legend(handles, labels, loc='center', bbox_to_anchor=((left + right) / 2 / W - 0.008, 1 - 1392 / H),
               ncol=5, frameon=False, fontsize=7, handlelength=1.3, handleheight=1.1,
               handletextpad=0.4, columnspacing=0.7)

cap_x = [216, 587, 989]
for x, txt in zip(cap_x, captions):
    fig.text(x / W, 1 - 1436 / H, txt, family='cmr10', fontsize=14.5, ha='center', va='center')

fig.savefig('out.png', dpi=100)
